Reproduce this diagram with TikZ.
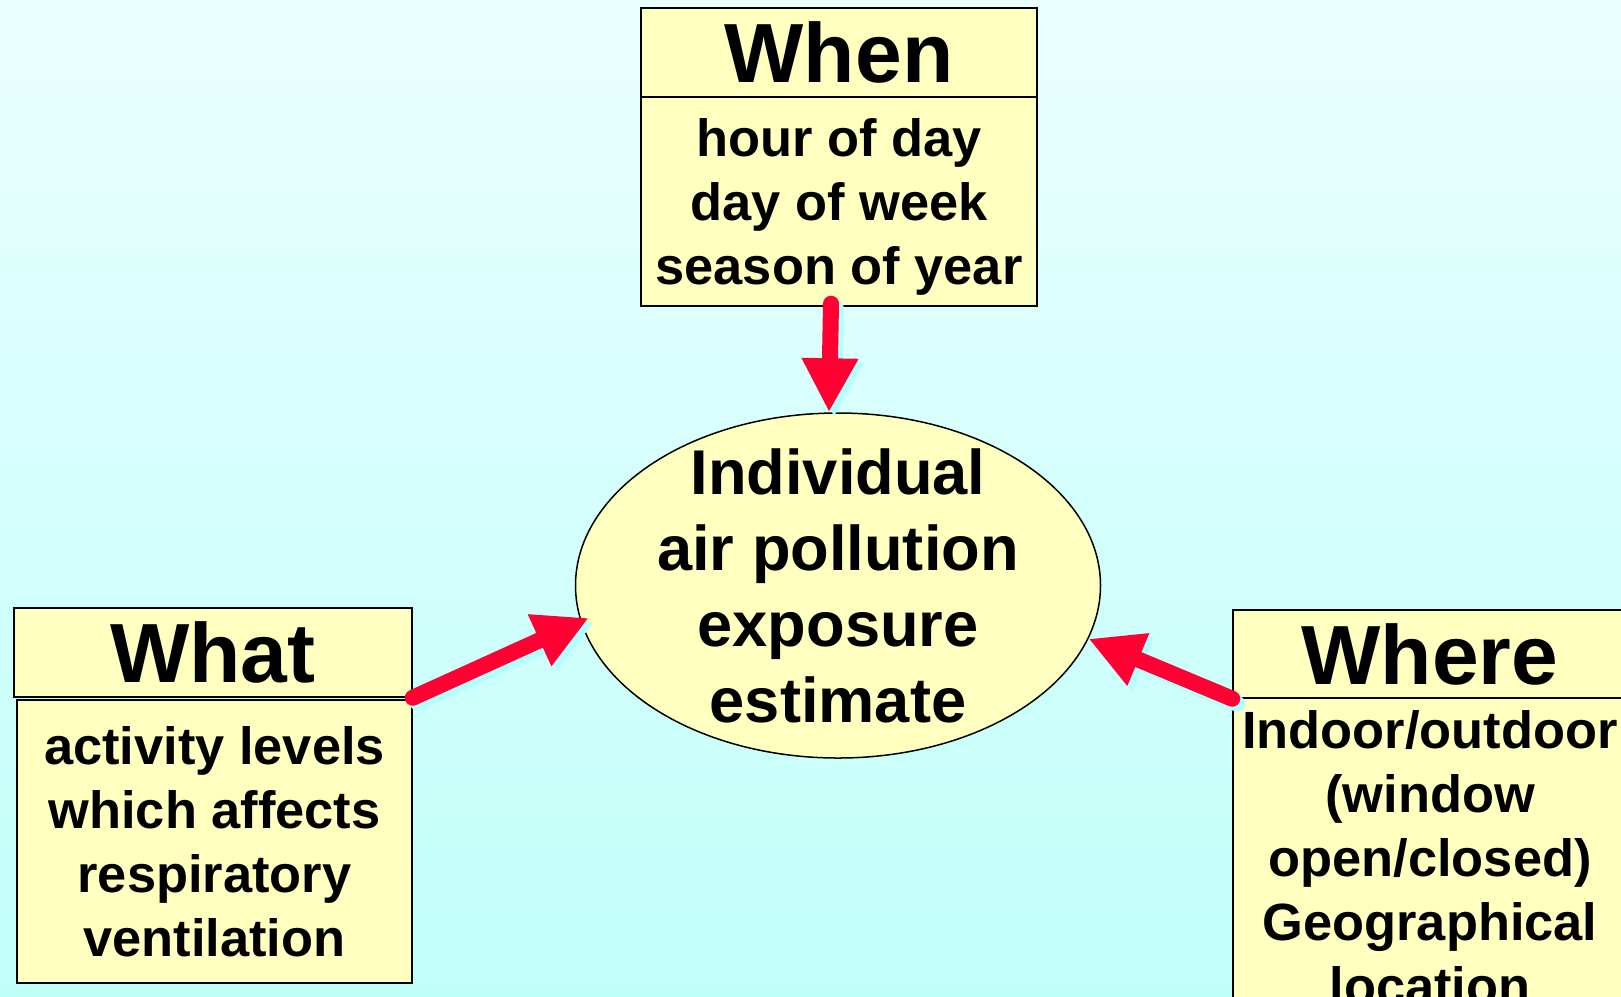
\documentclass[tikz,border=0pt]{standalone}
\usepackage{fontspec}
\setmainfont{Liberation Sans}
\usetikzlibrary{arrows.meta,shapes.geometric,calc}

\definecolor{bgtop}{RGB}{234,255,255}
\definecolor{bgbot}{RGB}{192,255,248}
\definecolor{boxyellow}{RGB}{255,255,192}
\definecolor{arrowred}{RGB}{255,0,51}
\definecolor{arrowshade}{RGB}{180,255,255}

\tikzset{
  headbox/.style={draw, line width=0.75pt, fill=boxyellow, inner sep=0pt,
    minimum width=198pt, minimum height=44.5pt,
    font=\bfseries\fontsize{42}{48}\selectfont},
  listbox/.style={draw, line width=0.75pt, fill=boxyellow, inner sep=0pt,
    minimum width=198pt, align=center, text depth=0pt,
    font=\bfseries\fontsize{26.2}{32}\selectfont},
  pollarrow/.style={color=arrowred, line width=8pt, line cap=round,
    -{Triangle[length=27pt,width=26.5pt]}},
  pollshade/.style={pollarrow, color=arrowshade,
    transform canvas={shift={(2.5pt,-2.5pt)}}},
}

\begin{document}
\begin{tikzpicture}[x=0.5pt,y=-0.5pt]
\fill[top color=bgtop, bottom color=bgbot] (0,0) rectangle (1621,996);
\useasboundingbox (0,0) rectangle (1621,996);
\clip (0,0) rectangle (1621,996);

% the three boxes
\node[headbox] (whenhead) at (839,52.5) {When};
\node[listbox, minimum height=104.5pt] (whenlist) at (839,201.5) {hour of day\\day of week\\season of year};

\node[headbox, minimum width=199pt] (whathead) at (213,652.5) {What};
\node[listbox, minimum width=197.5pt, minimum height=141.5pt] (whatlist) at (214.5,841.5) {activity levels\\which affects\\respiratory\\ventilation};

\node[headbox, minimum width=197pt, minimum height=44pt] (wherehead) at (1430,654) {Where};
\node[listbox, minimum width=197pt, minimum height=159pt] (wherelist) at (1430,857) {Indoor/outdoor\\(window\\open/closed)\\Geographical\\location};

% centre
\node[ellipse, draw, line width=0.75pt, fill=boxyellow, inner sep=0pt,
  minimum width=262.5pt, minimum height=172.5pt] (expo) at (838,585.5) {};
\node[align=center, inner sep=0pt, font=\bfseries\fontsize{31.6}{38}\selectfont] (expotext) at (expo) {Individual\\air pollution\\exposure\\estimate};

% arrows
\draw[pollshade] ([xshift=-4pt,yshift=1.5pt]whenlist.south) -- ([xshift=-4.5pt]expo.north);
\draw[pollarrow] ([xshift=-4pt,yshift=1.5pt]whenlist.south) -- ([xshift=-4.5pt]expo.north);
\draw[pollshade, shorten >=-4.5pt] (whathead.south east) -- (expo.188);
\draw[pollarrow, shorten >=-4.5pt] (whathead.south east) -- (expo.188);
\draw[pollshade] (wherehead.south west) -- (expo.348);
\draw[pollarrow] (wherehead.south west) -- (expo.348);
\end{tikzpicture}
\end{document}
